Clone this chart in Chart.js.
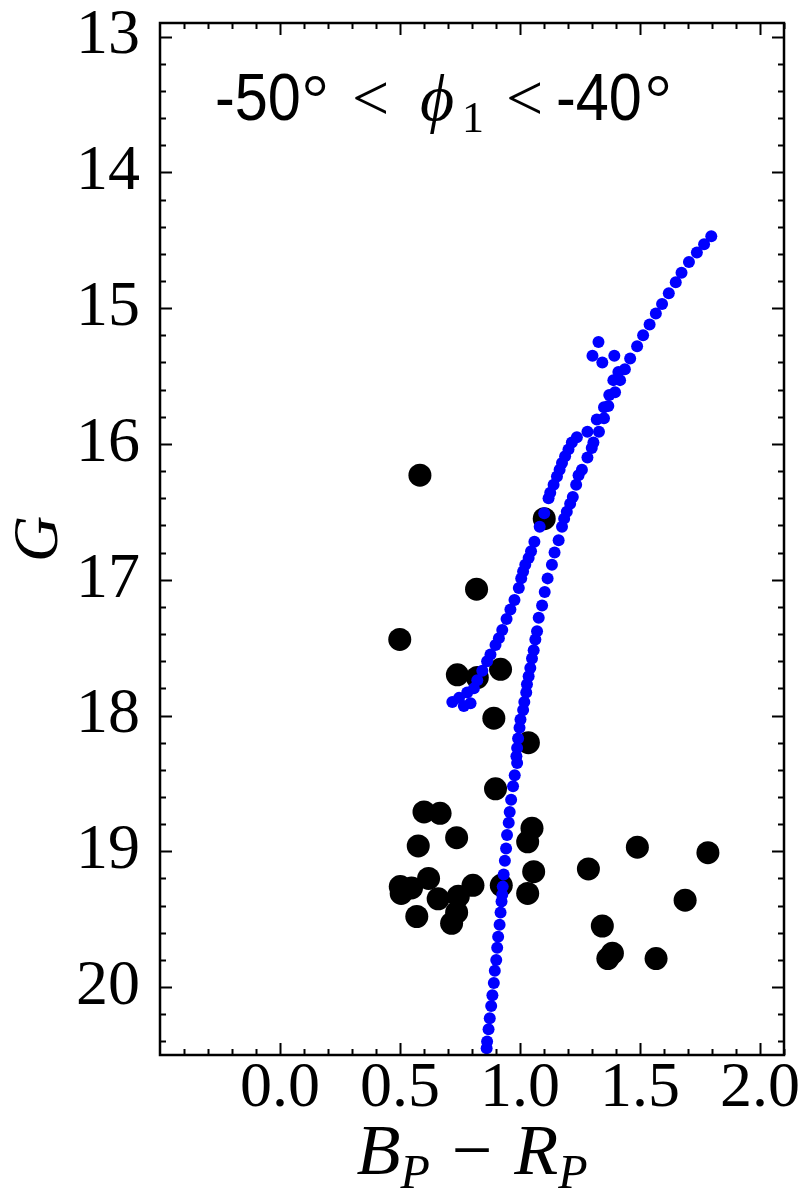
<!DOCTYPE html>
<html>
<head>
<meta charset="utf-8">
<script src="https://cdn.jsdelivr.net/npm/chart.js@4.4.0/dist/chart.umd.min.js"></script>
<style>
  body { margin: 0; background: #fff; }
  #wrap { width: 800px; height: 1200px; }
</style>
</head>
<body>
<div id="wrap"><canvas id="cmd" width="800" height="1200"></canvas></div>
<script>
// field stars (black)
var starColor = [0.583, 1.101, 0.819, 0.499, 0.739, 0.822, 0.919, 0.891, 1.035, 0.898,
                 0.600, 0.667, 0.736, 0.576, 1.050, 1.032, 1.057, 1.285, 1.489, 0.501,
                 0.548, 0.505, 0.619, 0.659, 0.743, 0.804, 0.922, 1.032, 0.570, 0.736,
                 0.715, 1.343, 1.385, 1.366, 1.783, 1.688, 1.567];
var starMag   = [16.23, 16.55, 17.07, 17.44, 17.70, 17.72, 17.66, 18.02, 18.20, 18.54,
                 18.71, 18.72, 18.90, 18.96, 18.83, 18.93, 19.15, 19.13, 18.97, 19.26,
                 19.27, 19.31, 19.20, 19.35, 19.33, 19.25, 19.25, 19.31, 19.48, 19.45,
                 19.53, 19.55, 19.75, 19.79, 19.01, 19.36, 19.79];

// isochrone (blue)
var isoColor = [
  1.797, 1.767, 1.737, 1.704, 1.673, 1.649, 1.620, 1.592, 1.566, 1.540,
  1.513, 1.488, 1.459, 1.437, 1.410, 1.417, 1.389, 1.396, 1.372, 1.368,
  1.350, 1.350, 1.320, 1.329, 1.281,
  1.327, 1.302, 1.343, 1.393,
  1.306, 1.299, 1.281, 1.258, 1.244, 1.234, 1.220, 1.209, 1.195, 1.184,
  1.175, 1.161, 1.144, 1.133, 1.115, 1.103, 1.092, 1.078, 1.071, 1.064,
  1.057, 1.050, 1.043, 1.036, 1.029, 1.026, 1.018, 1.013, 1.002, 0.998,
  0.992, 0.988, 0.985, 0.988, 0.978, 0.971, 0.963, 0.957, 0.953, 0.946,
  0.942, 0.937, 0.932, 0.928, 0.926, 0.923, 0.919, 0.915, 0.909, 0.905,
  0.901, 0.895, 0.891, 0.885, 0.880, 0.874, 0.869, 0.863, 0.861,
  1.237, 1.216, 1.202, 1.188, 1.175, 1.165, 1.154, 1.140, 1.126, 1.119,
  1.101, 1.082, 1.060, 1.046, 1.036, 1.022, 1.013, 1.005, 0.995, 0.977,
  0.960, 0.944, 0.926, 0.912, 0.898, 0.877, 0.863, 0.843, 0.822, 0.808,
  0.780, 0.746, 0.718, 0.766, 0.794
];
var isoMag = [
  14.47, 14.53, 14.59, 14.66, 14.74, 14.81, 14.89, 14.97, 15.04, 15.12,
  15.20, 15.28, 15.37, 15.45, 15.47, 15.53, 15.53, 15.62, 15.64, 15.72,
  15.73, 15.81, 15.82, 15.91, 15.91,
  15.25, 15.35, 15.40, 15.35,
  15.99, 16.03, 16.10, 16.19, 16.23, 16.30, 16.39, 16.44, 16.50, 16.55,
  16.61, 16.71, 16.80, 16.89, 16.99, 17.09, 17.19, 17.28, 17.38, 17.44,
  17.52, 17.58, 17.65, 17.71, 17.77, 17.83, 17.90, 17.96, 18.03, 18.09,
  18.17, 18.24, 18.30, 18.35, 18.44, 18.52, 18.62, 18.71, 18.79, 18.88,
  18.98, 19.07, 19.17, 19.26, 19.32, 19.37, 19.45, 19.54, 19.63, 19.71,
  19.80, 19.88, 19.97, 20.06, 20.14, 20.23, 20.31, 20.40, 20.45,
  15.95, 15.99, 16.04, 16.09, 16.14, 16.19, 16.24, 16.30, 16.36, 16.40,
  16.51, 16.61, 16.72, 16.79, 16.84, 16.89, 16.94, 16.99, 17.06, 17.15,
  17.22, 17.29, 17.37, 17.43, 17.48, 17.55, 17.60, 17.67, 17.74, 17.80,
  17.83, 17.87, 17.90, 17.93, 17.91
];

var xTicks = [0, 0.5, 1.0, 1.5, 2.0];
var xTickLabels = ['0.0', '0.5', '1.0', '1.5', '2.0'];
var yTicks = [13, 14, 15, 16, 17, 18, 19, 20];
var yTickLabels = ['13', '14', '15', '16', '17', '18', '19', '20'];

function toPoints(xs, ys) {
    return xs.map(function (v, i) { return { x: v, y: ys[i] }; });
}

var serif = '"Liberation Serif", "DejaVu Serif", serif';
var sans = '"Liberation Sans", Arial, sans-serif';

// inward ticks on all four sides + frame, like matplotlib
var frameTicks = {
    id: 'frameTicks',
    afterDatasetsDraw(chart) {
        const ctx = chart.ctx;
        const a = chart.chartArea;
        const xs = chart.scales.x, ys = chart.scales.y;
        ctx.save();
        ctx.strokeStyle = '#000';
        ctx.lineWidth = 2;
        ctx.beginPath();
        for (let i = -4; i <= 21; i++) {
            const v = i / 10;
            const px = Math.round(xs.getPixelForValue(v)) + 0.5;
            const len = (i % 5 === 0) ? 12 : 6;
            ctx.moveTo(px, a.bottom); ctx.lineTo(px, a.bottom - len);
            ctx.moveTo(px, a.top); ctx.lineTo(px, a.top + len);
        }
        for (let i = 65; i <= 102; i++) {
            const v = i / 5;
            const py = Math.round(ys.getPixelForValue(v)) + 0.5;
            const len = (i % 5 === 0) ? 12 : 6;
            ctx.moveTo(a.left, py); ctx.lineTo(a.left + len, py);
            ctx.moveTo(a.right, py); ctx.lineTo(a.right - len, py);
        }
        ctx.stroke();
        ctx.lineWidth = 2.5;
        ctx.strokeRect(a.left, a.top, a.right - a.left, a.bottom - a.top);
        ctx.restore();
    }
};

// annotation and x axis label with subscripts
var textBits = {
    id: 'textBits',
    afterDraw(chart) {
        const ctx = chart.ctx;
        ctx.save();
        ctx.fillStyle = '#000';
        ctx.textAlign = 'left';
        ctx.textBaseline = 'alphabetic';

        function squeezed(t, x, y, font, sx) {
            ctx.save();
            ctx.font = font;
            ctx.translate(x, y);
            ctx.scale(sx, 1);
            ctx.fillText(t, 0, 0);
            ctx.restore();
        }
        const by = 120;
        squeezed('-50', 215, by, '66px ' + sans, 0.9);
        ctx.font = '66px ' + serif;
        ctx.fillText('\u00B0', 302, by);
        ctx.fillText('<', 352, by);
        ctx.font = 'italic 66px ' + serif;
        ctx.fillText('\u03D5', 420, by);
        ctx.font = '44px ' + serif;
        ctx.fillText('1', 462, by + 12);
        ctx.font = '66px ' + serif;
        ctx.fillText('<', 506, by);
        squeezed('-40', 556, by, '66px ' + sans, 0.9);
        ctx.font = '66px ' + serif;
        ctx.fillText('\u00B0', 645, by);

        // B_P - R_P
        const a = chart.chartArea;
        const parts = [
            { t: 'B', f: 'italic 72px ' + serif, dy: 0, gap: 0 },
            { t: 'P', f: 'italic 48px ' + serif, dy: 14, gap: 0 },
            { t: '\u2212', f: '72px ' + serif, dy: 0, gap: 22 },
            { t: 'R', f: 'italic 72px ' + serif, dy: 0, gap: 22 },
            { t: 'P', f: 'italic 48px ' + serif, dy: 14, gap: 0 }
        ];
        let total = 0;
        parts.forEach(p => { ctx.font = p.f; p.w = ctx.measureText(p.t).width; total += p.w + p.gap; });
        let x = (a.left + a.right) / 2 - total / 2;
        const ly = 1174;
        parts.forEach(p => {
            x += p.gap;
            ctx.font = p.f;
            ctx.fillText(p.t, x, ly + p.dy);
            x += p.w;
        });
        ctx.restore();
    }
};

new Chart(document.getElementById('cmd'), {
    type: 'scatter',
    data: {
        datasets: [{
            label: 'isochrone',
            data: toPoints(isoColor, isoMag),
            backgroundColor: '#0000ff',
            borderWidth: 0,
            pointRadius: 6
        }, {
            label: 'stars',
            data: toPoints(starColor, starMag),
            backgroundColor: '#000000',
            borderWidth: 0,
            pointRadius: 11.5
        }]
    },
    options: {
        responsive: false,
        animation: false,
        devicePixelRatio: 1,
        layout: { padding: { top: 23, right: 16, left: 0, bottom: 0 } },
        plugins: {
            legend: { display: false },
            tooltip: { enabled: false }
        },
        scales: {
            x: {
                type: 'linear',
                min: -0.5,
                max: 2.1,
                afterBuildTicks: function (s) { s.ticks = xTicks.map(v => ({ value: v })); },
                afterFit: function (s) { s.height = 145; s.paddingLeft = 0; s.paddingRight = 0; },
                grid: { display: false, drawTicks: false },
                border: { display: false },
                ticks: {
                    autoSkip: false,
                    maxRotation: 0,
                    padding: -4,
                    color: '#000',
                    font: { family: serif, size: 64 },
                    callback: function (v, i) { return xTickLabels[i]; }
                }
            },
            y: {
                type: 'linear',
                reverse: true,
                min: 12.9,
                max: 20.5,
                afterBuildTicks: function (s) { s.ticks = yTicks.map(v => ({ value: v })); },
                afterFit: function (s) { s.width = 160; s.paddingTop = 0; s.paddingBottom = 0; },
                grid: { display: false, drawTicks: false },
                border: { display: false },
                title: {
                    display: true,
                    text: 'G',
                    color: '#000',
                    font: { family: serif, size: 64, style: 'italic' },
                    padding: { top: 2, bottom: 0 }
                },
                ticks: {
                    autoSkip: false,
                    padding: 20,
                    color: '#000',
                    font: { family: serif, size: 64 },
                    callback: function (v, i) { return yTickLabels[i]; }
                }
            }
        }
    },
    plugins: [frameTicks, textBits]
});
</script>
</body>
</html>
